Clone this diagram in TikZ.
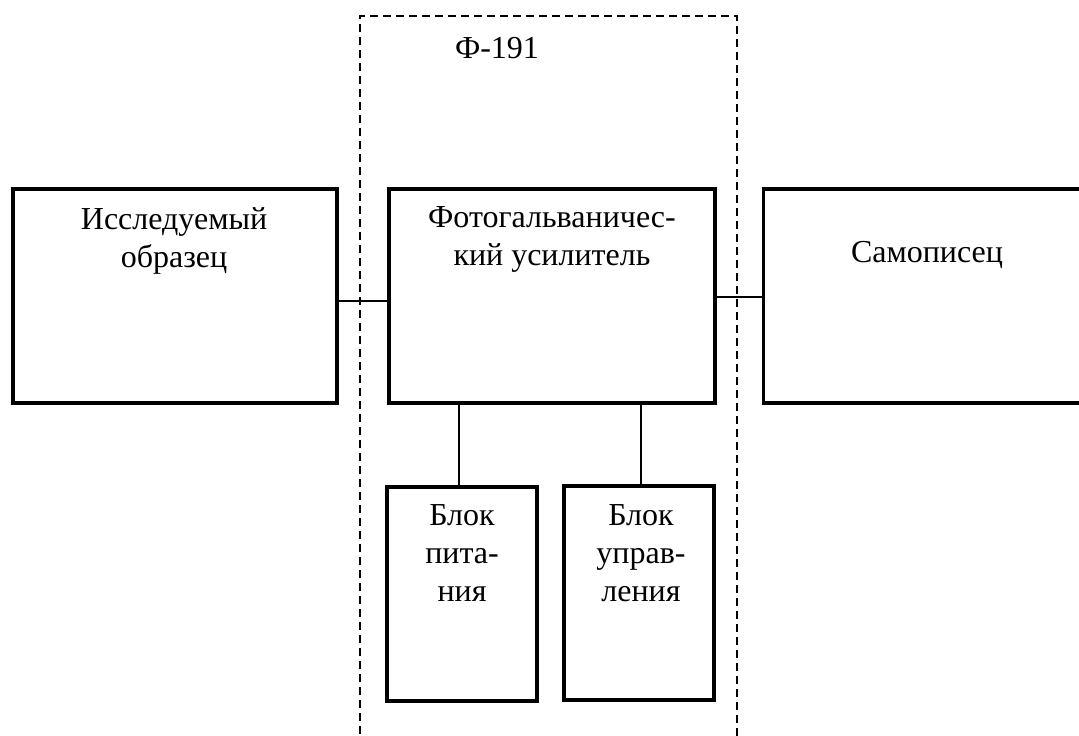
\documentclass[tikz,border=0pt]{standalone}
\usepackage{fontspec}
\setmainfont{Liberation Serif}
\usetikzlibrary{positioning}

\tikzset{
	blok/.style={draw, line width=3.5pt, inner sep=0pt},
	nadpis/.style={align=center, inner sep=0pt, anchor=base, font=\fontsize{32}{38}\selectfont},
	svyaz/.style={line width=1.5pt},
	ramka/.style={line width=1.5pt, dash pattern=on 8pt off 5pt}
}

\begin{document}
\begin{tikzpicture}[x=1pt, y=-1pt]

		\useasboundingbox (0,0) rectangle (1079,736);

		%the dashed frame of the device
		\draw[ramka] (360,760) -- (360,16) -- (737,16) -- (737,760);
		\node[nadpis] (f191) at (497,58) {Ф-191};

		%the three main blocks
		\node[blok, minimum width=324pt, minimum height=214pt] (obrazec) at (175,296) {};
		\node[blok, minimum width=326pt, minimum height=214pt] (usil) at (552,296) {};
		\node[blok, minimum width=327pt, minimum height=214pt] (samopis) at (927,296) {};

		% base is the last line
		\node[nadpis] (obrazec text) at (174,267) {Исследуемый\\образец};
		\node[nadpis] (usil text) at (552,265) {Фотогальваничес-\\кий усилитель};
		\node[nadpis] (samopis text) at (927,262) {Самописец};

		%the two blocks below the amplifier
		\node[blok, minimum width=150pt, minimum height=214pt] (pitanie) at (462,594) {};
		\node[blok, minimum width=150pt, minimum height=214pt] (uprav) at (639,593) {};

		\node[nadpis] (pitanie text) at (462,601) {Блок\\пита-\\ния};
		\node[nadpis] (uprav text) at (641,601) {Блок\\управ-\\ления};

		%the connections
		\draw[svyaz] (obrazec.east |- 0,301) -- (usil.west |- 0,301);
		\draw[svyaz] (usil.east |- 0,297) -- (samopis.west |- 0,297);
		\draw[svyaz] (usil.south -| 459,0) -- (pitanie.north -| 459,0);
		\draw[svyaz] (usil.south -| 641,0) -- (uprav.north -| 641,0);

	\end{tikzpicture}
\end{document}
